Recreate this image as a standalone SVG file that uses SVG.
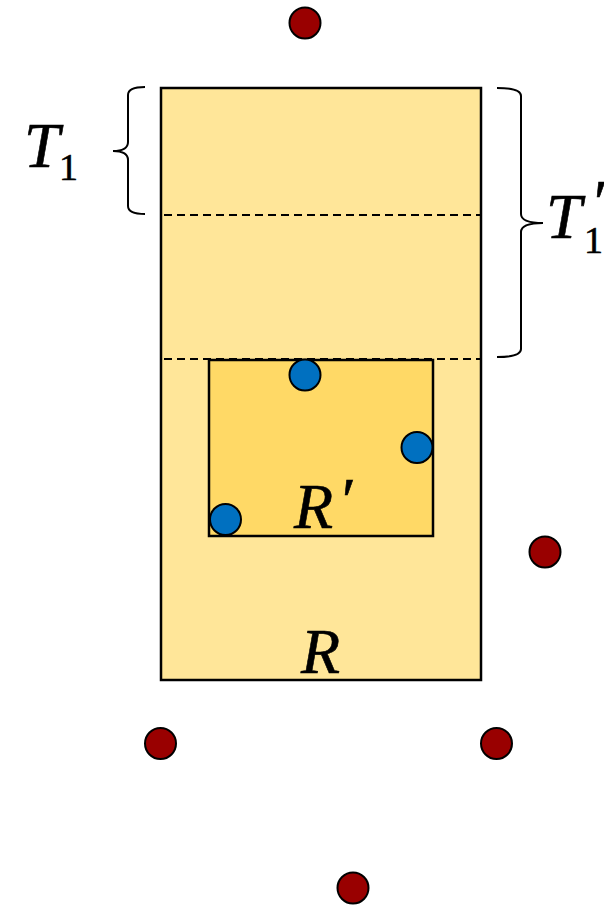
<svg xmlns="http://www.w3.org/2000/svg" width="604" height="907" viewBox="0 0 604 907">
<style>
.box{stroke:#000;stroke-width:2.5}
.dash{stroke:#000;stroke-width:2;stroke-dasharray:8,5;fill:none}
.brace{stroke:#000;stroke-width:2;fill:none}
.blue{fill:#0070C0;stroke:#000;stroke-width:2}
.red{fill:#990000;stroke:#000;stroke-width:2}
.lbl{font-family:"Liberation Serif","DejaVu Serif",serif;font-style:italic;fill:#000;stroke:#000;stroke-width:0.6}
.sub{font-style:normal;fill:#000}
</style>
<rect width="604" height="907" fill="#fff"/>
<g id="R">
<rect class="box" x="161" y="88" width="320" height="592" fill="#FFE699"/>
<text class="lbl" x="301" y="673" font-size="64">R</text>
</g>
<g id="dashes">
<line class="dash" x1="164" y1="215" x2="480" y2="215"/>
<line class="dash" x1="164" y1="359" x2="480" y2="359"/>
</g>
<g id="Rprime">
<rect class="box" x="209" y="360" width="224" height="176" fill="#FFD966"/>
<text class="lbl" x="294" y="528" font-size="64">R<tspan x="338" y="522">′</tspan></text>
</g>
<g id="bluepoints">
<circle class="blue" cx="305" cy="375" r="15.5"/>
<circle class="blue" cx="417" cy="447.5" r="15.5"/>
<circle class="blue" cx="225.5" cy="519.5" r="15.5"/>
</g>
<g id="redpoints">
<circle class="red" cx="305" cy="23" r="15.5"/>
<circle class="red" cx="545" cy="552" r="15.5"/>
<circle class="red" cx="160.5" cy="743.5" r="15.5"/>
<circle class="red" cx="496.5" cy="743.5" r="15.5"/>
<circle class="red" cx="353" cy="888" r="15.5"/>
</g>
<g id="T1">
<path class="brace" d="M145,87 Q128,87 128,95 L128,142 Q128,151 113,151 Q128,151 128,160 L128,206 Q128,214 145,214"/>
<text class="lbl" x="24" y="167" font-size="64">T<tspan class="sub" x="59" y="180" font-size="38">1</tspan></text>
</g>
<g id="T1prime">
<path class="brace" d="M497,88 Q521,88 521,96 L521,214 Q521,223 543,223 Q521,223 521,232 L521,349 Q521,357 497,357"/>
<text class="lbl" x="546" y="238" font-size="64">T<tspan x="590" y="224">′</tspan><tspan class="sub" x="584" y="253" font-size="38">1</tspan></text>
</g>
</svg>
